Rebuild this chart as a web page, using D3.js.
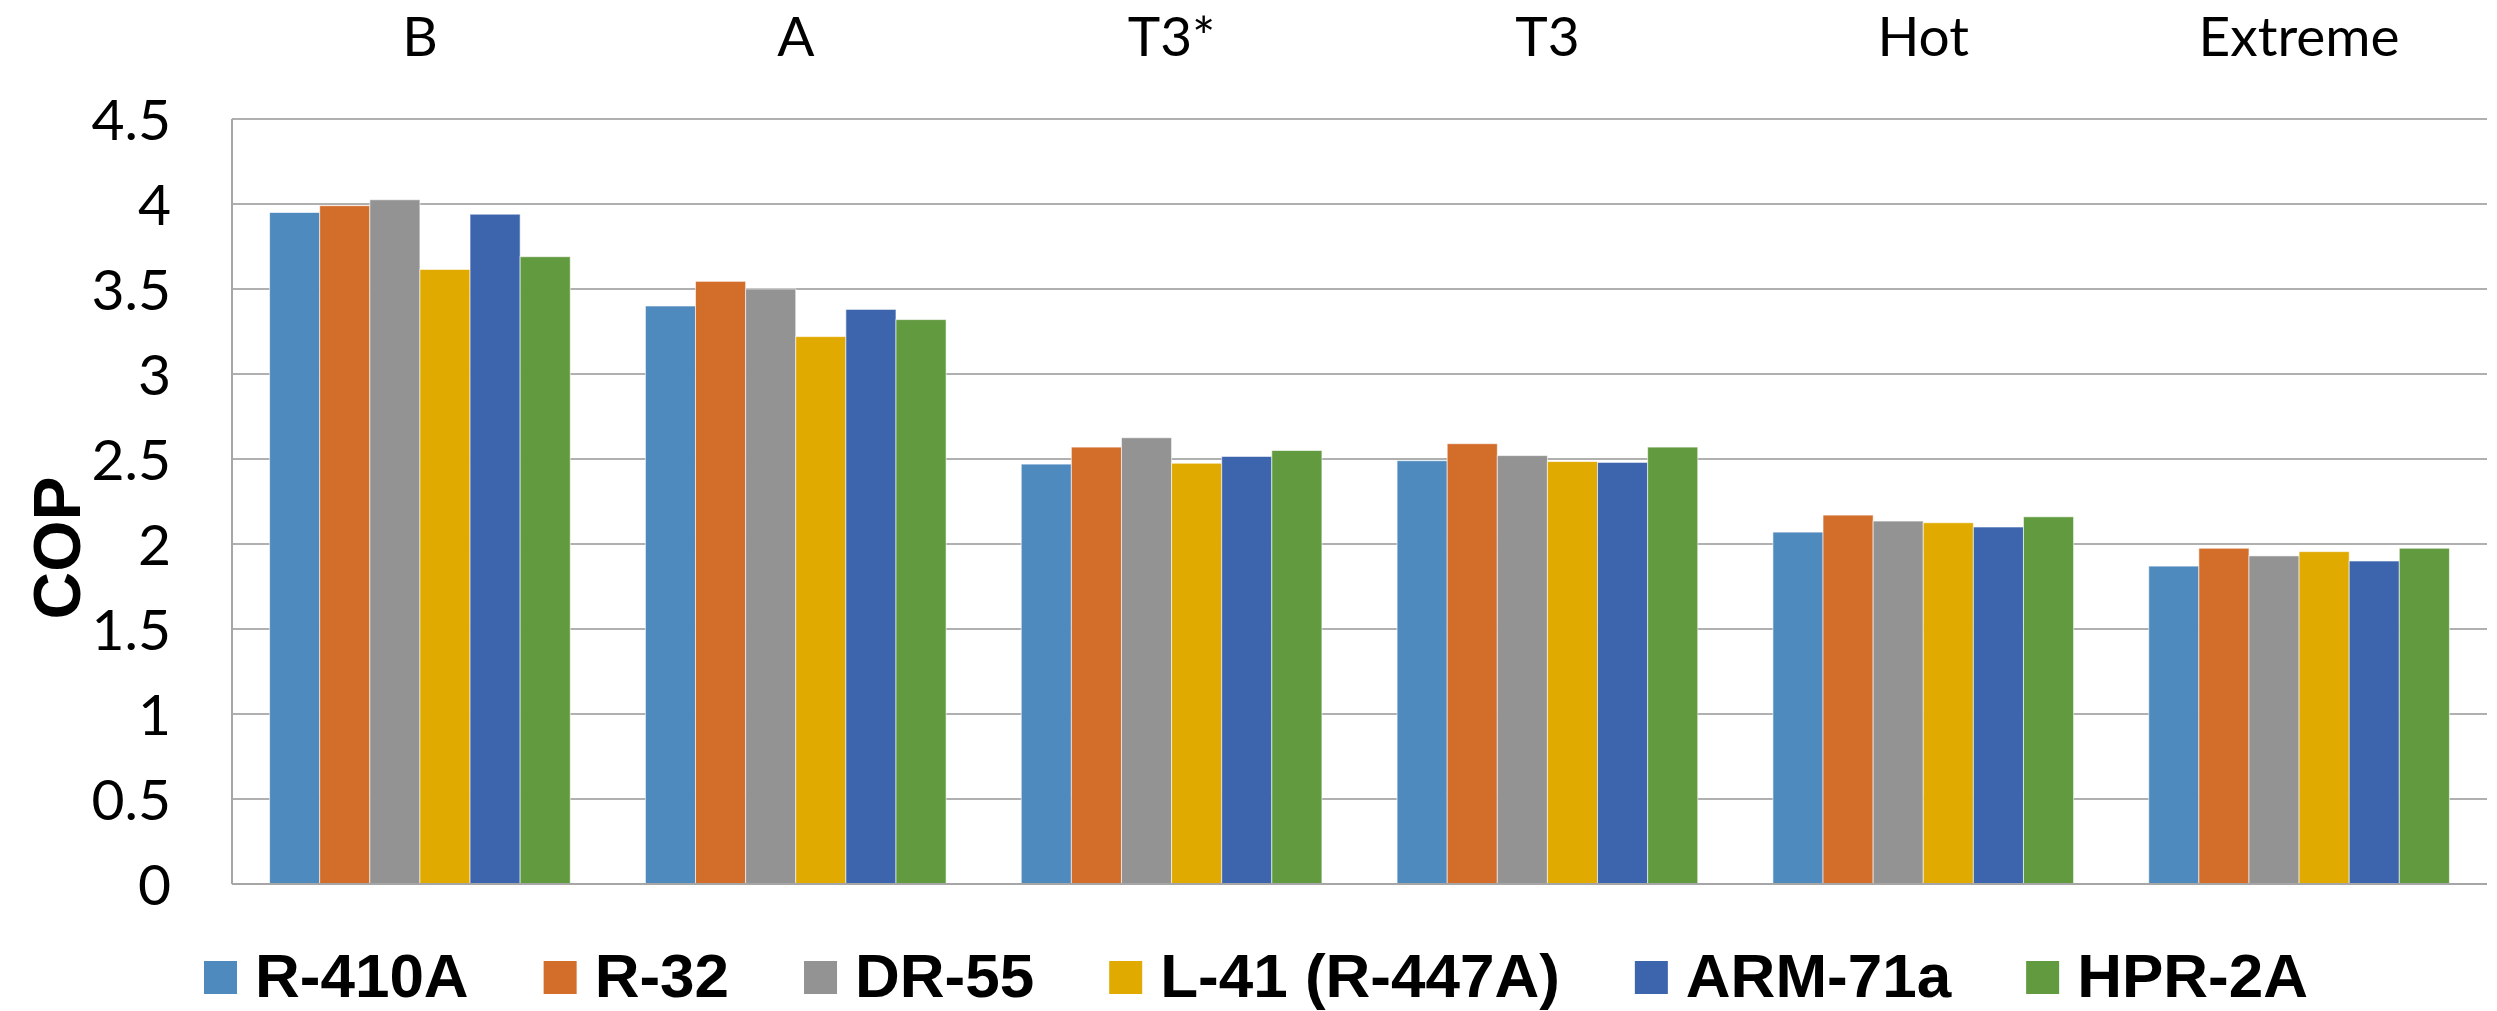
<!DOCTYPE html>
<html>
<head>
<meta charset="utf-8">
<script src="https://cdn.jsdelivr.net/npm/d3@7"></script>
<style>
  html, body { margin: 0; padding: 0; background: #fff; }
  svg { display: block; }
</style>
</head>
<body>
<div id="chart"></div>
<script>
// ── Data ──
const categories = ["B", "A", "T3*", "T3", "Hot", "Extreme"];
const seriesNames = ["R-410A", "R-32", "DR-55", "L-41 (R-447A)", "ARM-71a", "HPR-2A"];
const seriesColors = ["#4f8abe", "#d36d2a", "#939393", "#e0aa00", "#3d65ad", "#629a3f"];

const r410a  = [3.95, 3.40, 2.47, 2.49, 2.07, 1.87];
const r32    = [3.99, 3.545, 2.57, 2.59, 2.17, 1.975];
const dr55   = [4.025, 3.50, 2.625, 2.52, 2.135, 1.93];
const l41    = [3.615, 3.22, 2.475, 2.485, 2.125, 1.955];
const arm71a = [3.94, 3.38, 2.515, 2.48, 2.10, 1.90];
const hpr2a  = [3.69, 3.32, 2.55, 2.57, 2.16, 1.975];
const seriesValues = [r410a, r32, dr55, l41, arm71a, hpr2a];

const yTicks = [0, 0.5, 1, 1.5, 2, 2.5, 3, 3.5, 4, 4.5];
const yTickLabels = ["0", "0.5", "1", "1.5", "2", "2.5", "3", "3.5", "4", "4.5"];

const WIDTH = 2497;
const HEIGHT = 1011;
const plot = { left: 232, right: 2487, top: 119, bottom: 884 };

const svg = d3.select("#chart").append("svg")
    .attr("width", WIDTH)
    .attr("height", HEIGHT);

// ── Scales ──
const x0 = d3.scaleBand()
    .domain(categories)
    .range([plot.left, plot.right])
    .paddingInner(0.2)
    .paddingOuter(0.1);

const x1 = d3.scaleBand()
    .domain(seriesNames)
    .range([0, x0.bandwidth()]);

const y = d3.scaleLinear()
    .domain([0, 4.5])
    .range([plot.bottom, plot.top]);

const color = d3.scaleOrdinal().domain(seriesNames).range(seriesColors);

// ── Gridlines ──
svg.append("g")
    .selectAll("line")
    .data(yTicks.filter(t => t > 0))
    .join("line")
    .attr("x1", plot.left)
    .attr("x2", plot.right)
    .attr("y1", d => y(d))
    .attr("y2", d => y(d))
    .attr("stroke", "#b0b0b0")
    .attr("stroke-width", 2);

// ── Bars ──
const rows = categories.map((c, i) => ({
    category: c,
    values: seriesNames.map((s, j) => ({ series: s, value: seriesValues[j][i] }))
}));

svg.append("g")
    .selectAll("g")
    .data(rows)
    .join("g")
    .attr("transform", d => `translate(${x0(d.category)},0)`)
    .selectAll("rect")
    .data(d => d.values)
    .join("rect")
    .attr("x", d => x1(d.series))
    .attr("y", d => y(d.value))
    .attr("width", x1.bandwidth())
    .attr("height", d => y(0) - y(d.value))
    .attr("fill", d => color(d.series))
    .attr("stroke", "#ffffff")
    .attr("stroke-opacity", 0.6)
    .attr("stroke-width", 1);

// ── Axis lines ──
svg.append("line")
    .attr("x1", plot.left).attr("x2", plot.left)
    .attr("y1", plot.top).attr("y2", plot.bottom)
    .attr("stroke", "#a6a6a6").attr("stroke-width", 2);
svg.append("line")
    .attr("x1", plot.left).attr("x2", plot.right)
    .attr("y1", plot.bottom).attr("y2", plot.bottom)
    .attr("stroke", "#a6a6a6").attr("stroke-width", 2);

// ── Y tick labels ──
svg.append("g")
    .selectAll("text")
    .data(yTicks)
    .join("text")
    .attr("x", 171)
    .attr("y", d => y(d))
    .attr("dy", "0.36em")
    .attr("text-anchor", "end")
    .attr("font-family", "Lato, 'Open Sans', sans-serif")
    .attr("font-size", 57)
    .attr("fill", "#000")
    .text((d, i) => yTickLabels[i]);

// ── Category labels (top) ──
svg.append("g")
    .selectAll("text")
    .data(categories)
    .join("text")
    .attr("x", d => x0(d) + x0.bandwidth() / 2)
    .attr("y", 56)
    .attr("text-anchor", "middle")
    .attr("font-family", "Lato, 'Open Sans', sans-serif")
    .attr("font-size", 55)
    .attr("fill", "#000")
    .text(d => d);

// ── Y axis title ──
svg.append("text")
    .attr("transform", `translate(80, 548) rotate(-90)`)
    .attr("text-anchor", "middle")
    .attr("font-family", "'Liberation Sans', Arial, sans-serif")
    .attr("font-weight", "bold")
    .attr("font-size", 66)
    .attr("fill", "#000")
    .text("COP");

// ── Legend ──
const legend = svg.append("g").attr("transform", "translate(204,0)");
const sq = 33, gapText = 18, gapItem = 75;
let cursor = 0;
seriesNames.forEach((name) => {
    const g = legend.append("g").attr("transform", `translate(${cursor},0)`);
    g.append("rect")
        .attr("x", 0).attr("y", 961)
        .attr("width", sq).attr("height", sq)
        .attr("fill", color(name));
    const t = g.append("text")
        .attr("x", sq + gapText)
        .attr("y", 997)
        .attr("font-family", "'Liberation Sans', Arial, sans-serif")
        .attr("font-weight", "bold")
        .attr("font-size", 62)
        .attr("fill", "#000")
        .text(name);
    cursor += sq + gapText + t.node().getComputedTextLength() + gapItem;
});
</script>
</body>
</html>
